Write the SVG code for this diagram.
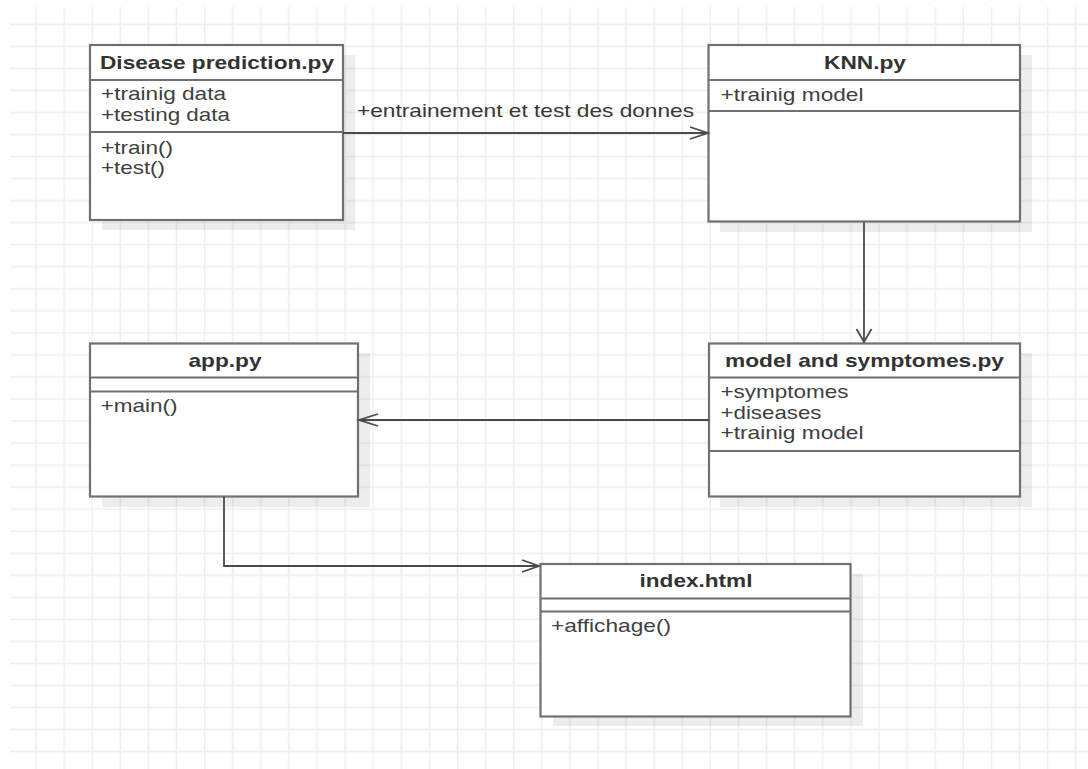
<svg xmlns="http://www.w3.org/2000/svg" width="1088" height="769" viewBox="0 0 1088 769">
  <style>
    .box { fill: #ffffff; stroke: #707070; stroke-width: 2.2; }
    .shadow { fill: #000000; fill-opacity: 0.07; }
    .sep { stroke: #707070; stroke-width: 2.2; fill: none; }
    .title { font-family: "Liberation Sans", Arial, sans-serif; font-size: 18.5px; font-weight: bold; fill: #333333; text-anchor: middle; }
    .member { font-family: "Liberation Sans", Arial, sans-serif; font-size: 18.5px; fill: #404040; }
    .edge { stroke: #4a4a4a; stroke-width: 1.8; fill: none; }
    .head { stroke: #4a4a4a; stroke-width: 1.8; fill: none; stroke-linejoin: miter; }
    .label { font-family: "Liberation Sans", Arial, sans-serif; font-size: 18.5px; fill: #383838; }
  </style>
  <defs>
    <pattern id="grid" patternUnits="userSpaceOnUse" x="21.95" y="13.5" width="28.1" height="22.03">
      <line x1="14.05" y1="0" x2="14.05" y2="22.03" stroke="#eeeeee" stroke-width="1.6"/>
      <line x1="0" y1="11" x2="28.1" y2="11" stroke="#eeeeee" stroke-width="1.6"/>
    </pattern>
  </defs>

  <!-- background and grid -->
  <rect x="0" y="0" width="1088" height="769" fill="#ffffff"/>
  <rect x="10" y="7" width="1078" height="762" fill="url(#grid)"/>

  <!-- Disease prediction.py -->
  <g id="disease-prediction">
    <rect class="shadow" x="102" y="55" width="253" height="175"/>
    <rect class="box" x="90" y="45" width="253" height="175"/>
    <line class="sep" x1="90" y1="80" x2="343" y2="80"/>
    <line class="sep" x1="90" y1="132" x2="343" y2="132"/>
    <text class="title" x="217" y="69" textLength="234" lengthAdjust="spacingAndGlyphs">Disease prediction.py</text>
    <text class="member" x="101" y="100" textLength="125" lengthAdjust="spacingAndGlyphs">+trainig data</text>
    <text class="member" x="101" y="120.5" textLength="129" lengthAdjust="spacingAndGlyphs">+testing data</text>
    <text class="member" x="101" y="153.5" textLength="72" lengthAdjust="spacingAndGlyphs">+train()</text>
    <text class="member" x="101" y="174" textLength="64" lengthAdjust="spacingAndGlyphs">+test()</text>
  </g>

  <!-- KNN.py -->
  <g id="knn">
    <rect class="shadow" x="720" y="55" width="312" height="177"/>
    <rect class="box" x="708.5" y="45" width="311.5" height="176.5"/>
    <line class="sep" x1="708.5" y1="80" x2="1020" y2="80"/>
    <line class="sep" x1="708.5" y1="111" x2="1020" y2="111"/>
    <text class="title" x="865" y="69" textLength="82" lengthAdjust="spacingAndGlyphs">KNN.py</text>
    <text class="member" x="720.5" y="101" textLength="143" lengthAdjust="spacingAndGlyphs">+trainig model</text>
  </g>

  <!-- model and symptomes.py -->
  <g id="model-symptomes">
    <rect class="shadow" x="720" y="353" width="312" height="154"/>
    <rect class="box" x="709" y="343.5" width="311" height="153"/>
    <line class="sep" x1="709" y1="377.5" x2="1020" y2="377.5"/>
    <line class="sep" x1="709" y1="451" x2="1020" y2="451"/>
    <text class="title" x="864.5" y="366.5" textLength="279" lengthAdjust="spacingAndGlyphs">model and symptomes.py</text>
    <text class="member" x="720.5" y="398" textLength="128" lengthAdjust="spacingAndGlyphs">+symptomes</text>
    <text class="member" x="720.5" y="418.5" textLength="101" lengthAdjust="spacingAndGlyphs">+diseases</text>
    <text class="member" x="720.5" y="439" textLength="143" lengthAdjust="spacingAndGlyphs">+trainig model</text>
  </g>

  <!-- app.py -->
  <g id="app">
    <rect class="shadow" x="102" y="353" width="268" height="154"/>
    <rect class="box" x="90" y="343.5" width="268" height="153"/>
    <line class="sep" x1="90" y1="377.5" x2="358" y2="377.5"/>
    <line class="sep" x1="90" y1="391.5" x2="358" y2="391.5"/>
    <text class="title" x="225" y="366.5" textLength="73" lengthAdjust="spacingAndGlyphs">app.py</text>
    <text class="member" x="100.5" y="411.5" textLength="77" lengthAdjust="spacingAndGlyphs">+main()</text>
  </g>

  <!-- index.html -->
  <g id="index-html">
    <rect class="shadow" x="553" y="574" width="310" height="152"/>
    <rect class="box" x="540.5" y="564" width="310" height="152.5"/>
    <line class="sep" x1="540.5" y1="598.5" x2="850.5" y2="598.5"/>
    <line class="sep" x1="540.5" y1="611.5" x2="850.5" y2="611.5"/>
    <text class="title" x="696" y="586.5" textLength="113" lengthAdjust="spacingAndGlyphs">index.html</text>
    <text class="member" x="551" y="631.5" textLength="120" lengthAdjust="spacingAndGlyphs">+affichage()</text>
  </g>

  <!-- connectors -->
  <g id="connectors">
    <!-- Disease prediction.py -> KNN.py -->
    <line class="edge" x1="343" y1="133" x2="708" y2="133"/>
    <polyline class="head" points="690,127 708,133 690,139"/>
    <text class="label" x="357" y="117" textLength="337" lengthAdjust="spacingAndGlyphs">+entrainement et test des donnes</text>

    <!-- KNN.py -> model and symptomes.py -->
    <line class="edge" x1="864" y1="222" x2="864" y2="342"/>
    <polyline class="head" points="856.5,329 864,342 871.5,329"/>

    <!-- model and symptomes.py -> app.py -->
    <line class="edge" x1="709" y1="420" x2="359" y2="420"/>
    <polyline class="head" points="378,414 359,420 378,426"/>

    <!-- app.py -> index.html -->
    <polyline class="edge" points="224,497 224,566 539,566"/>
    <polyline class="head" points="522,560 539,566 522,572"/>
  </g>
</svg>
